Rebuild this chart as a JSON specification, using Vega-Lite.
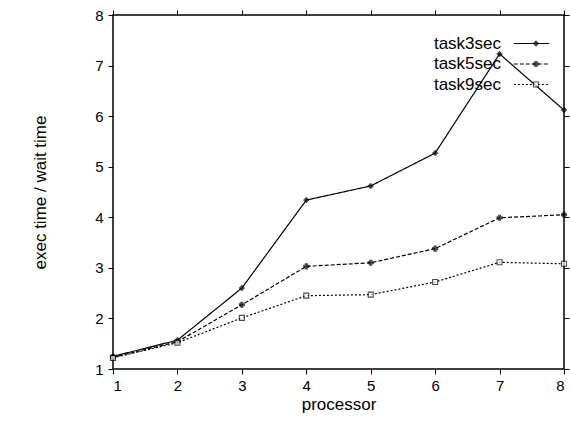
{
  "$schema": "https://vega.github.io/schema/vega-lite/v6.json",
  "width": 451,
  "height": 354,
  "autosize": "none",
  "padding": {"left": 113, "top": 15, "right": 6, "bottom": 52},
  "background": "white",
  "config": {
    "font": "Liberation Sans",
    "view": {"stroke": "black", "strokeWidth": 1.5},
    "axis": {"grid": false, "domainColor": "black", "tickColor": "black", "labelColor": "black", "titleColor": "black", "labelFontSize": 15, "titleFontSize": 17, "titleFontWeight": "normal", "labelFont": "Liberation Sans", "titleFont": "Liberation Sans", "tickSize": 5, "tickWidth": 1}
  },
  "data": {"values": [
    {"processor": 1, "task": "task3sec", "value": 1.25},
    {"processor": 2, "task": "task3sec", "value": 1.57},
    {"processor": 3, "task": "task3sec", "value": 2.6},
    {"processor": 4, "task": "task3sec", "value": 4.34},
    {"processor": 5, "task": "task3sec", "value": 4.62},
    {"processor": 6, "task": "task3sec", "value": 5.27},
    {"processor": 7, "task": "task3sec", "value": 7.23},
    {"processor": 8, "task": "task3sec", "value": 6.12},
    {"processor": 1, "task": "task5sec", "value": 1.23},
    {"processor": 2, "task": "task5sec", "value": 1.54},
    {"processor": 3, "task": "task5sec", "value": 2.27},
    {"processor": 4, "task": "task5sec", "value": 3.03},
    {"processor": 5, "task": "task5sec", "value": 3.1},
    {"processor": 6, "task": "task5sec", "value": 3.38},
    {"processor": 7, "task": "task5sec", "value": 3.99},
    {"processor": 8, "task": "task5sec", "value": 4.05},
    {"processor": 1, "task": "task9sec", "value": 1.22},
    {"processor": 2, "task": "task9sec", "value": 1.52},
    {"processor": 3, "task": "task9sec", "value": 2.01},
    {"processor": 4, "task": "task9sec", "value": 2.45},
    {"processor": 5, "task": "task9sec", "value": 2.47},
    {"processor": 6, "task": "task9sec", "value": 2.72},
    {"processor": 7, "task": "task9sec", "value": 3.11},
    {"processor": 8, "task": "task9sec", "value": 3.08}
  ]},
  "layer": [
    {
      "mark": {"type": "line", "color": "black", "strokeWidth": 1.2},
      "encoding": {
        "x": {"field": "processor", "type": "quantitative", "scale": {"domain": [1, 8], "nice": false, "zero": false},
          "axis": {"title": "processor", "values": [1,2,3,4,5,6,7,8], "format": "d", "labelPadding": 4, "titlePadding": 3, "domain": false,
            "encode": {"ticks": {"update": {"y2": {"value": -5}}}}}},
        "y": {"field": "value", "type": "quantitative", "scale": {"domain": [1, 8], "nice": false, "zero": false},
          "axis": {"title": "exec time / wait time", "values": [1,2,3,4,5,6,7,8], "format": "d", "labelPadding": 5, "titlePadding": 45, "domain": false,
            "encode": {"ticks": {"update": {"x2": {"value": 5}}}}}},
        "strokeDash": {"field": "task", "type": "nominal",
          "scale": {"domain": ["task3sec", "task5sec", "task9sec"], "range": [[1, 0], [4, 2], [2, 2]]},
          "legend": {"title": null, "orient": "none", "legendX": 410, "legendY": 20, "symbolType": "M-2.5,0H2.5", "symbolSize": 200, "symbolStrokeColor": "black", "symbolStrokeWidth": 1.2, "labelFontSize": 17, "labelAlign": "right", "labelOffset": -39, "rowPadding": 2.5, "labelColor": "black"}}
      }
    },
    {
      "mark": {"type": "point", "color": "black", "size": 25, "strokeWidth": 1.1, "filled": false},
      "encoding": {
        "x": {"field": "processor", "type": "quantitative", "axis": {"orient": "top", "labels": false, "title": null, "values": [1,2,3,4,5,6,7,8], "domain": false,
          "encode": {"ticks": {"update": {"y2": {"value": 5}}}}}},
        "y": {"field": "value", "type": "quantitative", "axis": {"orient": "right", "labels": false, "title": null, "values": [1,2,3,4,5,6,7,8], "domain": false,
          "encode": {"ticks": {"update": {"x2": {"value": -5}}}}}},
        "shape": {"field": "task", "type": "nominal",
          "scale": {"domain": ["task3sec", "task5sec", "task9sec"], "range": ["diamond", "cross", "square"]},
          "legend": {"title": null, "orient": "none", "legendX": 414.5, "legendY": 20, "labelExpr": "''", "labelFontSize": 17, "rowPadding": 2.5, "symbolStrokeColor": "black", "symbolFillColor": "white", "symbolSize": 25, "symbolStrokeWidth": 1.1}},
        "fill": {"field": "task", "type": "nominal",
          "scale": {"domain": ["task3sec", "task5sec", "task9sec"], "range": ["black", "black", "white"]},
          "legend": null}
      }
    }
  ],
  "resolve": {"axis": {"x": "independent", "y": "independent"}, "legend": {"shape": "independent", "strokeDash": "independent", "fill": "independent"}}
}
